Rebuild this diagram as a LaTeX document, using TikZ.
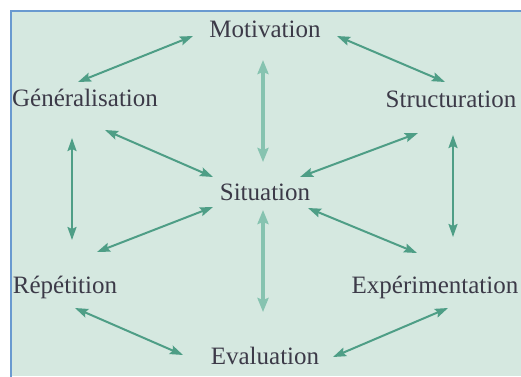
\documentclass[tikz,border=0pt]{standalone}
\usepackage{fontspec}
\setmainfont{Liberation Serif}
\usetikzlibrary{arrows.meta}
\definecolor{bgmint}{HTML}{D5E8E0}
\definecolor{arrowgreen}{HTML}{4E9E86}
\definecolor{arrowlight}{HTML}{86C3B0}
\definecolor{framebl}{HTML}{6A9AD0}
\definecolor{txtc}{HTML}{3C3A48}
\tikzset{
  lbl/.style={anchor=base, inner sep=0pt, text=txtc, font=\fontsize{25}{29}\selectfont},
  conn/.style={arrowgreen, line width=2pt, {Stealth[length=13pt,width=9pt,inset=2pt]}-{Stealth[length=13pt,width=9pt,inset=2pt]}},
  vconn/.style={conn, draw=arrowlight, line width=4.5pt, {Stealth[length=14pt,width=11pt,inset=2pt,fill=arrowgreen]}-{Stealth[length=14pt,width=11pt,inset=2pt,fill=arrowgreen]}}
}
\begin{document}
\begin{tikzpicture}[x=1pt,y=-1pt]
\useasboundingbox (0,0) rectangle (521,376);
\fill[white] (0,0) rectangle (521,376);
\fill[bgmint] (11,11) rectangle (521,376);
\draw[framebl, line width=2pt] (11,377) -- (11,11) -- (522,11);
\node[lbl] (mot) at (265,37) {Motivation};
\node[lbl] (gen) at (85,106) {Généralisation};
\node[lbl] (str) at (451,107) {Structuration};
\node[lbl] (sit) at (265,200) {Situation};
\node[lbl] (rep) at (65,293) {Répétition};
\node[lbl] (exp) at (435,293) {Expérimentation};
\node[lbl] (eva) at (265,364) {Evaluation};
\draw[conn] ([shift={(-72,-1)}]mot.base) -- ([shift={(-7,-24)}]gen.base);
\draw[conn] ([shift={(72,-1)}]mot.base) -- ([shift={(-6,-25)}]str.base);
\draw[vconn] ([shift={(-2,23)}]mot.base) -- ([shift={(-2,-38)}]sit.base);
\draw[conn] ([shift={(20,24)}]gen.base) -- ([shift={(-52,-23)}]sit.base);
\draw[conn] ([shift={(-33,26)}]str.base) -- ([shift={(35,-23)}]sit.base);
\draw[conn] ([shift={(-13,32)}]gen.base) -- ([shift={(7,-53)}]rep.base);
\draw[conn] ([shift={(2,28)}]str.base) -- ([shift={(18,-56)}]exp.base);
\draw[conn] ([shift={(-52,7)}]sit.base) -- ([shift={(32,-41)}]rep.base);
\draw[conn] ([shift={(43,8)}]sit.base) -- ([shift={(-18,-40)}]exp.base);
\draw[vconn] ([shift={(-2,10)}]sit.base) -- ([shift={(-2,-52)}]eva.base);
\draw[conn] ([shift={(10,15)}]rep.base) -- ([shift={(-82,-9)}]eva.base);
\draw[conn] ([shift={(13,15)}]exp.base) -- ([shift={(68,-7)}]eva.base);
\end{tikzpicture}
\end{document}
